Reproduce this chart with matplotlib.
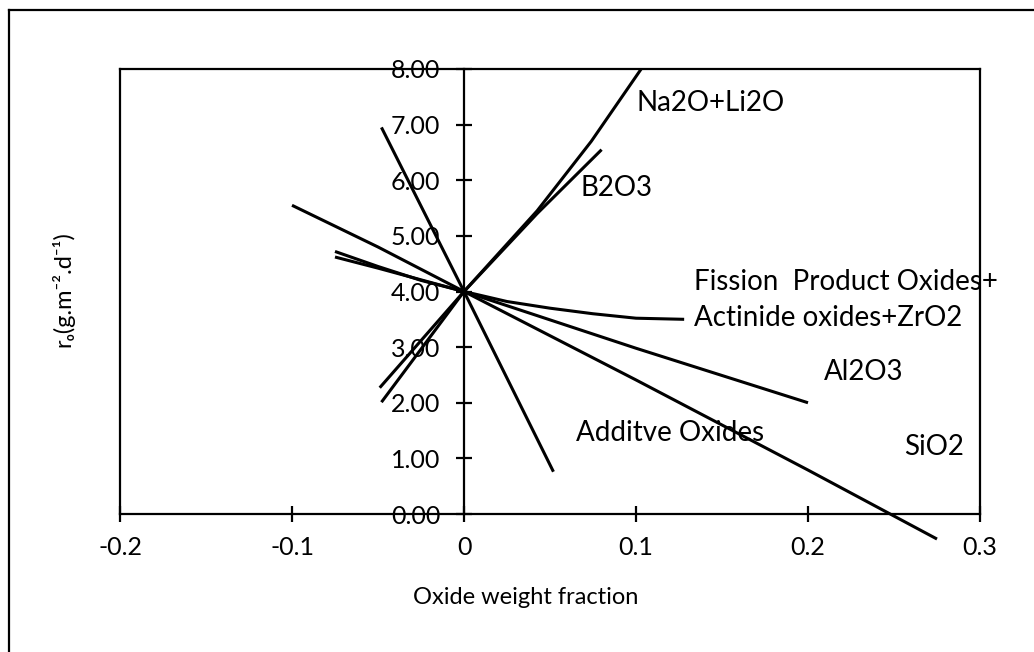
import matplotlib
matplotlib.use("Agg")
import matplotlib.pyplot as plt
from matplotlib.lines import Line2D

plt.rcParams['font.family'] = ['Lato', 'DejaVu Sans']
plt.rcParams['axes.unicode_minus'] = False

# every curve goes through (0, 4)
na2o_x = [-0.048, 0.0, 0.0425, 0.074, 0.103]
na2o_y = [2.01, 4.0, 5.45, 6.7, 8.0]

b2o3_x = [-0.049, 0.0, 0.0425, 0.08]
b2o3_y = [2.27, 4.0, 5.40, 6.55]

additive_x = [-0.048, 0.0, 0.052]
additive_y = [6.95, 4.0, 0.76]

al2o3_x = [-0.1, -0.05, 0.0, 0.1, 0.2]
al2o3_y = [5.55, 4.8, 4.0, 2.98, 2.0]

fission_x = [-0.075, -0.05, -0.025, 0.0, 0.025, 0.05, 0.075, 0.1, 0.128]
fission_y = [4.72, 4.45, 4.2, 4.0, 3.82, 3.7, 3.6, 3.52, 3.5]

sio2_x = [-0.075, -0.05, 0.0, 0.1, 0.2, 0.275]
sio2_y = [4.62, 4.42, 4.0, 2.41, 0.79, -0.45]

series = [(na2o_x, na2o_y), (b2o3_x, b2o3_y), (additive_x, additive_y),
          (al2o3_x, al2o3_y), (fission_x, fission_y), (sio2_x, sio2_y)]

labels = ["Na2O+Li2O", "B2O3", "Fission  Product Oxides+", "Actinide oxides+ZrO2",
          "Al2O3", "Additve Oxides", "SiO2"]
label_x = [0.1, 0.068, 0.1335, 0.1335, 0.209, 0.065, 0.256]
label_y = [7.39, 5.86, 4.17, 3.52, 2.55, 1.46, 1.2]

x_ticks = [-0.2, -0.1, 0, 0.1, 0.2, 0.3]
x_ticklabels = ["-0.2", "-0.1", "0", "0.1", "0.2", "0.3"]
y_ticks = [0, 1, 2, 3, 4, 5, 6, 7, 8]

W, H = 1034, 652
fig = plt.figure(figsize=(W / 100, H / 100), dpi=100)
ax = fig.add_axes([120 / W, 1 - 514 / H, 860 / W, 445 / H])

for xs, ys in series:
    ax.plot(xs, ys, color='black', lw=2.2, clip_on=False,
            solid_capstyle='butt', solid_joinstyle='round')

ax.set_xlim(-0.2, 0.3)
ax.set_ylim(0, 8)

# y axis sits on x = 0, box edge drawn separately
ax.spines['left'].set_position(('data', 0))
for s in ax.spines.values():
    s.set_linewidth(1.6)
ax.plot([-0.2, -0.2], [0, 8], color='black', lw=1.6, clip_on=False)

ax.set_xticks(x_ticks)
ax.set_xticklabels(x_ticklabels)
ax.set_yticks(y_ticks)
ax.set_yticklabels(["%.2f" % v for v in y_ticks])
ax.tick_params(axis='x', direction='inout', length=12, width=1.6, pad=10, labelsize=18)
ax.tick_params(axis='y', direction='inout', length=12, width=1.6, pad=11, labelsize=18)

for txt, lx, ly in zip(labels, label_x, label_y):
    ax.text(lx, ly, txt, fontsize=20, ha='left', va='center')

fig.text(526 / W, 1 - 598 / H, "Oxide weight fraction", fontsize=17, ha='center', va='center')
fig.text(63 / W, 1 - 289 / H, "r\u2092(g.m\u207b\u00b2.d\u207b\u00b9)", fontsize=17,
         rotation=90, ha='center', va='center')

# outer frame of the scanned figure
fig.add_artist(Line2D([9 / W, 9 / W], [0, 1 - 10 / H], transform=fig.transFigure, color='black', lw=1.6))
fig.add_artist(Line2D([9 / W, 1], [1 - 10 / H, 1 - 10 / H], transform=fig.transFigure, color='black', lw=1.6))

fig.savefig("out.png", dpi=100)
